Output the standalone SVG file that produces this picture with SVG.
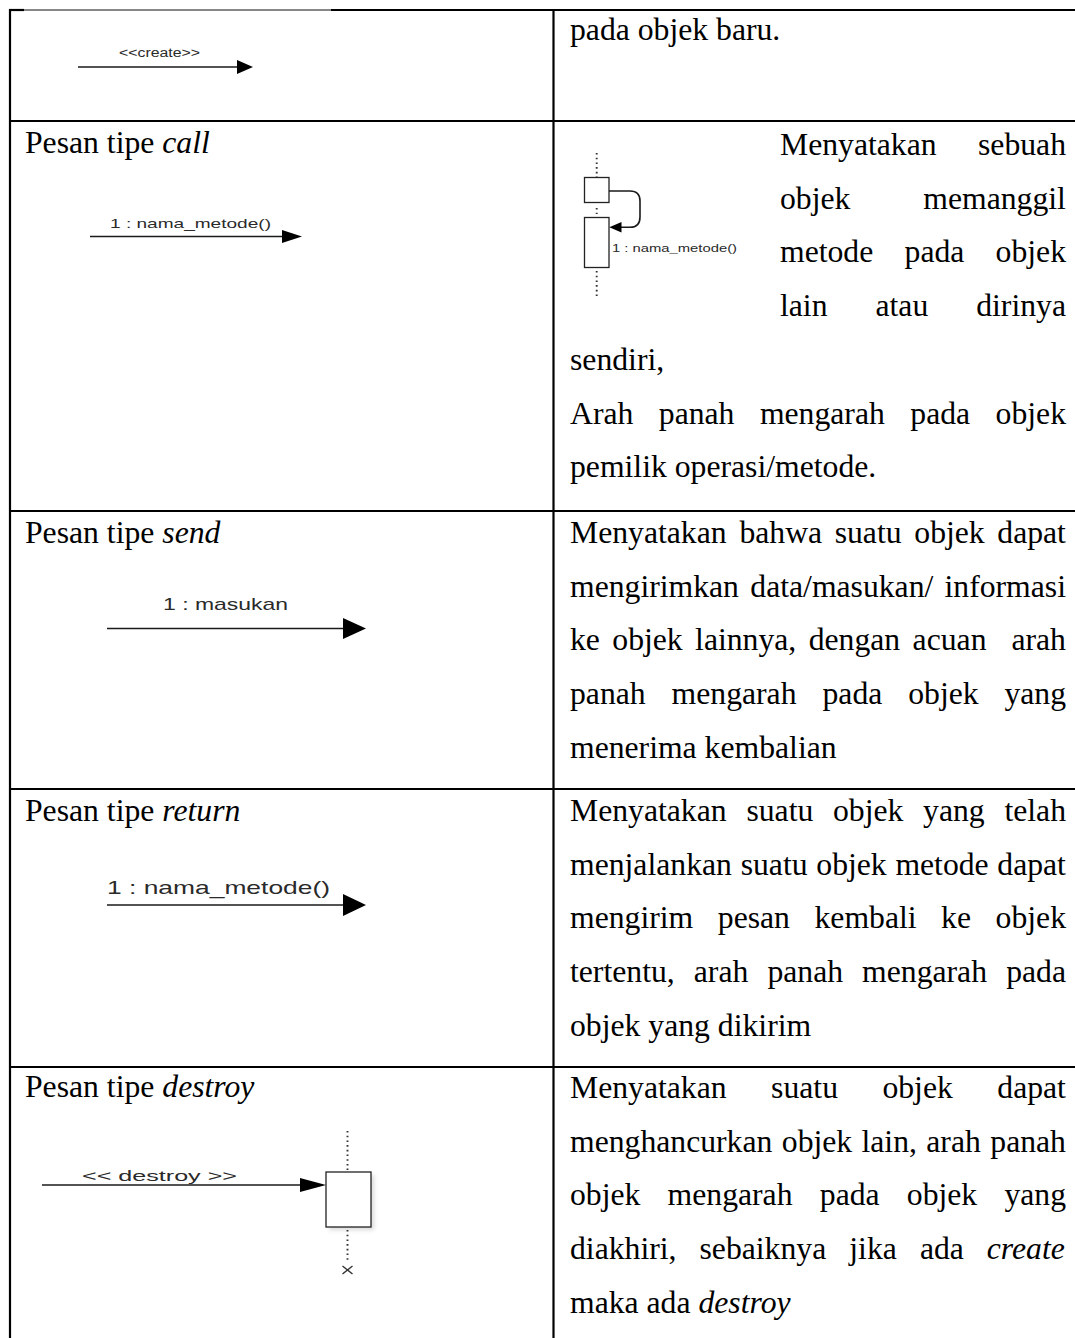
<svg xmlns="http://www.w3.org/2000/svg" width="1075" height="1338" viewBox="0 0 1075 1338">
  <style>
    .rule { stroke: #000; stroke-width: 2.2; fill: none; }
    .thin { stroke: #111; stroke-width: 1.2; fill: none; }
    .body { font-family: "Liberation Serif", "Times New Roman", serif; font-size: 31.7px; fill: #000; }
    .it { font-style: italic; }
    .lbl { font-family: "Liberation Sans", Arial, sans-serif; fill: #2a2a2a; }
    .msg { stroke: #1a1a1a; stroke-width: 1.6; fill: none; }
    .head { fill: #000; stroke: none; }
    .act { fill: #fff; stroke: #222; stroke-width: 1.3; }
    .life { stroke: #333; stroke-width: 1.9; stroke-dasharray: 1.6 3.1; fill: none; }
  </style>
  <defs>
    <filter id="soft" x="-30%" y="-30%" width="160%" height="160%">
      <feGaussianBlur stdDeviation="2"/>
    </filter>
  </defs>

  <rect width="1075" height="1338" fill="#fff"/>

  <!-- table grid -->
  <g id="grid">
    <line class="rule" x1="9" y1="10" x2="24" y2="10"/>
    <line class="thin" x1="24" y1="10" x2="331" y2="10"/>
    <line class="rule" x1="331" y1="10" x2="1075" y2="10"/>
    <line class="rule" x1="10" y1="9" x2="10" y2="1338"/>
    <line class="rule" x1="553.5" y1="9" x2="553.5" y2="1338"/>
    <line class="rule" x1="9" y1="121" x2="1075" y2="121"/>
    <line class="rule" x1="9" y1="511" x2="1075" y2="511"/>
    <line class="rule" x1="9" y1="789" x2="1075" y2="789"/>
    <line class="rule" x1="9" y1="1067" x2="1075" y2="1067"/>
  </g>

  <!-- row: create -->
  <g id="row-create">
    <text class="lbl" x="119" y="57" font-size="12.5" textLength="81" lengthAdjust="spacingAndGlyphs">&lt;&lt;create&gt;&gt;</text>
    <text class="body" x="570" y="40">pada objek baru.</text>
  </g>

  <!-- row: call -->
  <g id="row-call">
    <text class="body" x="25" y="153">Pesan tipe <tspan class="it">call</tspan></text>
    <text class="lbl" x="110" y="228" font-size="13" textLength="161" lengthAdjust="spacingAndGlyphs">1 : nama_metode()</text>
    <g id="call-self">
      <line class="life" x1="596.7" y1="153" x2="596.7" y2="177"/>
      <rect class="act" x="584.5" y="177.5" width="24.5" height="25"/>
      <line class="life" x1="596.7" y1="208" x2="596.7" y2="214"/>
      <rect class="act" x="584.5" y="217.5" width="24.5" height="50"/>
      <line class="life" x1="596.7" y1="271" x2="596.7" y2="298"/>
      <text class="lbl" x="612" y="252" font-size="11" textLength="125" lengthAdjust="spacingAndGlyphs">1 : nama_metode()</text>
    </g>
    <text class="body">
      <tspan x="780" y="155">Menyatakan</tspan><tspan x="978" y="155">sebuah</tspan>
      <tspan x="780" y="208.7">objek</tspan><tspan x="923.3" y="208.7">memanggil</tspan>
      <tspan x="780" y="262.4">metode</tspan><tspan x="904.6" y="262.4">pada</tspan><tspan x="995.6" y="262.4">objek</tspan>
      <tspan x="780" y="316.1">lain</tspan><tspan x="875.5" y="316.1">atau</tspan><tspan x="976.2" y="316.1">dirinya</tspan>
      <tspan x="570" y="369.8">sendiri,</tspan>
      <tspan x="570" y="423.5">Arah</tspan><tspan x="658.8" y="423.5">panah</tspan><tspan x="759.9" y="423.5">mengarah</tspan><tspan x="910.3" y="423.5">pada</tspan><tspan x="995.6" y="423.5">objek</tspan>
      <tspan x="570" y="477.2">pemilik operasi/metode.</tspan>
    </text>
  </g>

  <!-- row: send -->
  <g id="row-send">
    <text class="body" x="25" y="543">Pesan tipe <tspan class="it">send</tspan></text>
    <text class="lbl" x="163" y="610" font-size="17" textLength="125" lengthAdjust="spacingAndGlyphs">1 : masukan</text>
    <text class="body">
      <tspan x="570" y="543">Menyatakan</tspan><tspan x="739.4" y="543">bahwa</tspan><tspan x="834.7" y="543">suatu</tspan><tspan x="914.3" y="543">objek</tspan><tspan x="997.3" y="543">dapat</tspan>
      <tspan x="570" y="596.7">mengirimkan</tspan><tspan x="750.3" y="596.7">data/masukan/</tspan><tspan x="944.5" y="596.7">informasi</tspan>
      <tspan x="570" y="650.4">ke</tspan><tspan x="612.3" y="650.4">objek</tspan><tspan x="695.1" y="650.4">lainnya,</tspan><tspan x="808.7" y="650.4">dengan</tspan><tspan x="912.6" y="650.4">acuan</tspan><tspan x="1011.4" y="650.4">arah</tspan>
      <tspan x="570" y="704.1">panah</tspan><tspan x="671.6" y="704.1">mengarah</tspan><tspan x="822.5" y="704.1">pada</tspan><tspan x="908.2" y="704.1">objek</tspan><tspan x="1004.4" y="704.1">yang</tspan>
      <tspan x="570" y="757.8">menerima kembalian</tspan>
    </text>
  </g>

  <!-- row: return -->
  <g id="row-return">
    <text class="body" x="25" y="821">Pesan tipe <tspan class="it">return</tspan></text>
    <text class="lbl" x="107" y="894" font-size="19" textLength="223" lengthAdjust="spacingAndGlyphs">1 : nama_metode()</text>
    <text class="body">
      <tspan x="570" y="821">Menyatakan</tspan><tspan x="746.4" y="821">suatu</tspan><tspan x="833" y="821">objek</tspan><tspan x="923.1" y="821">yang</tspan><tspan x="1004.4" y="821">telah</tspan>
      <tspan x="570" y="874.7">menjalankan</tspan><tspan x="740.7" y="874.7">suatu</tspan><tspan x="816.3" y="874.7">objek</tspan><tspan x="895.4" y="874.7">metode</tspan><tspan x="997.3" y="874.7">dapat</tspan>
      <tspan x="570" y="928.4">mengirim</tspan><tspan x="717.8" y="928.4">pesan</tspan><tspan x="814.5" y="928.4">kembali</tspan><tspan x="941.1" y="928.4">ke</tspan><tspan x="995.6" y="928.4">objek</tspan>
      <tspan x="570" y="982.1">tertentu,</tspan><tspan x="693.8" y="982.1">arah</tspan><tspan x="767.4" y="982.1">panah</tspan><tspan x="862.1" y="982.1">mengarah</tspan><tspan x="1006.2" y="982.1">pada</tspan>
      <tspan x="570" y="1035.8">objek yang dikirim</tspan>
    </text>
  </g>

  <!-- row: destroy -->
  <g id="row-destroy">
    <text class="body" x="25" y="1097">Pesan tipe <tspan class="it">destroy</tspan></text>
    <text class="lbl" x="82" y="1181" font-size="15" textLength="155" lengthAdjust="spacingAndGlyphs">&lt;&lt; destroy &gt;&gt;</text>
    <g id="destroy-target">
      <line class="life" x1="347.5" y1="1131" x2="347.5" y2="1170"/>
      <rect x="329" y="1175" width="45" height="55" fill="#bbb" opacity="0.55" filter="url(#soft)"/>
      <rect class="act" x="326" y="1172" width="45" height="55"/>
      <line class="life" x1="347.5" y1="1230" x2="347.5" y2="1260"/>
      <path d="M342.5,1266 L352.5,1274 M342.5,1274 L352.5,1266" stroke="#333" stroke-width="1.4" fill="none"/>
    </g>
    <text class="body">
      <tspan x="570" y="1098">Menyatakan</tspan><tspan x="771.1" y="1098">suatu</tspan><tspan x="882.4" y="1098">objek</tspan><tspan x="997.3" y="1098">dapat</tspan>
      <tspan x="570" y="1151.7">menghancurkan</tspan><tspan x="781.8" y="1151.7">objek</tspan><tspan x="861.5" y="1151.7">lain,</tspan><tspan x="926.3" y="1151.7">arah</tspan><tspan x="990.3" y="1151.7">panah</tspan>
      <tspan x="570" y="1205.4">objek</tspan><tspan x="667.6" y="1205.4">mengarah</tspan><tspan x="819.8" y="1205.4">pada</tspan><tspan x="906.8" y="1205.4">objek</tspan><tspan x="1004.4" y="1205.4">yang</tspan>
      <tspan x="570" y="1259.1">diakhiri,</tspan><tspan x="699.5" y="1259.1">sebaiknya</tspan><tspan x="849.3" y="1259.1">jika</tspan><tspan x="919.9" y="1259.1">ada</tspan><tspan x="986.8" y="1259.1" class="it">create</tspan>
      <tspan x="570" y="1312.8">maka ada <tspan class="it">destroy</tspan></tspan>
    </text>
  </g>

  <!-- message arrows -->
  <g id="connectors">
    <line class="msg" x1="78" y1="67" x2="238" y2="67"/>
    <polygon class="head" points="237,60 253,67 237,74"/>

    <line class="msg" x1="90" y1="236.5" x2="283" y2="236.5"/>
    <polygon class="head" points="282,230 302,236.5 282,243"/>

    <path class="msg" d="M609,191 H630 Q640,191 640,201 V217 Q640,227.3 630,227.3 H620" stroke-width="1.3"/>
    <polygon class="head" points="621.5,222 609.3,227.3 621.5,232.6"/>

    <line class="msg" x1="107" y1="628.5" x2="344" y2="628.5"/>
    <polygon class="head" points="343,618 366,628.5 343,639"/>

    <line class="msg" x1="107" y1="905" x2="344" y2="905"/>
    <polygon class="head" points="343,894 366,905 343,916"/>

    <line class="msg" x1="42" y1="1185" x2="301" y2="1185"/>
    <polygon class="head" points="300,1178 326,1185 300,1192"/>
  </g>
</svg>
